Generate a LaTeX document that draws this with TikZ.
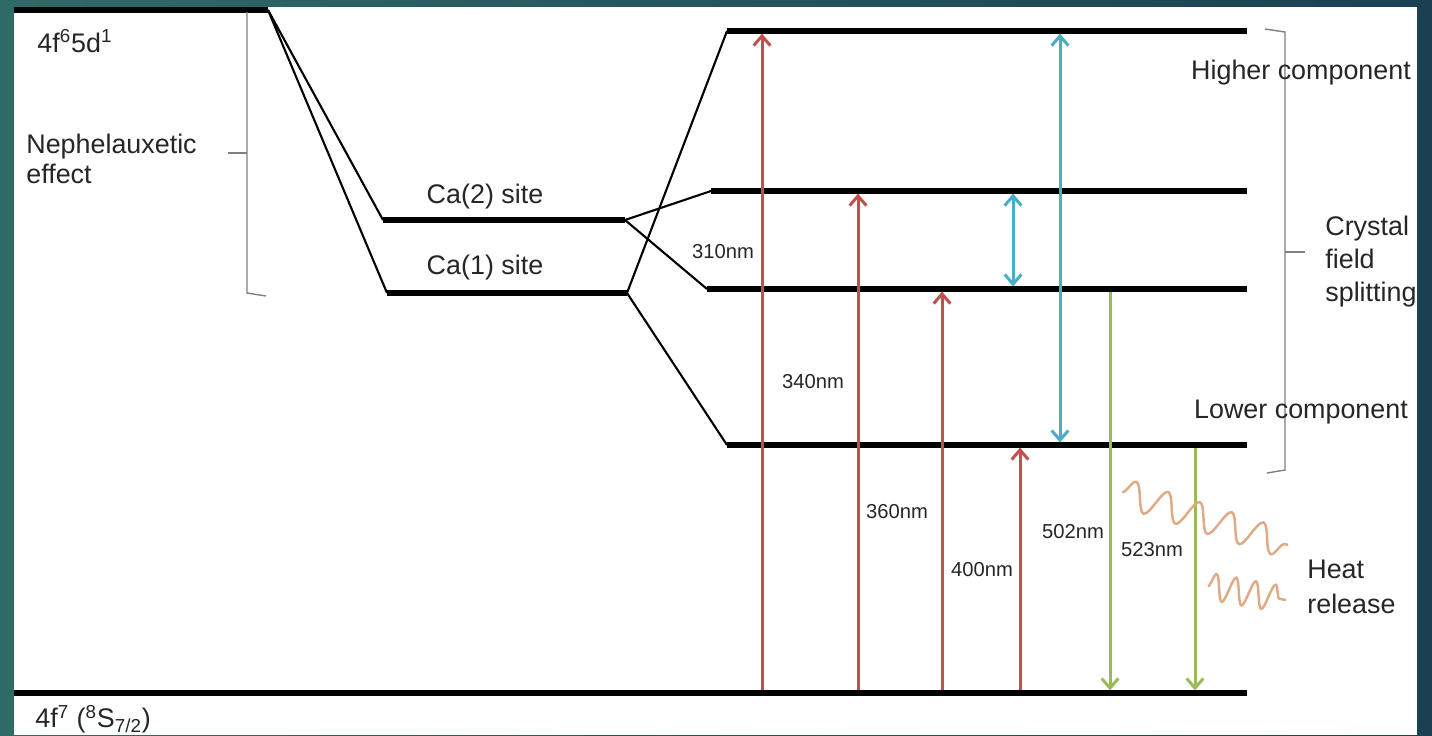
\documentclass[tikz,border=0pt]{standalone}
\usepackage{fontspec}
\setmainfont{Liberation Sans}
\usetikzlibrary{arrows.meta,decorations.pathmorphing}
\definecolor{bgL}{HTML}{2E6B67}
\definecolor{bgR}{HTML}{1A4052}
\definecolor{exc}{HTML}{C0504D}
\definecolor{cfs}{HTML}{4BACC6}
\definecolor{emi}{HTML}{9BBB59}
\definecolor{heat}{HTML}{DFAA86}
\definecolor{txt}{HTML}{262626}
\definecolor{brk}{HTML}{808080}
\begin{document}
\begin{tikzpicture}[x=0.02cm,y=-0.02cm,
  level/.style={line width=3pt,black},
  link/.style={line width=1.2pt,black},
  barb/.tip={Straight Barb[length=5.5pt,width=9.5pt]},
  excit/.style={exc,line width=1.7pt,-barb,shorten >=1.5pt,shorten <=1.5pt},
  split/.style={cfs,line width=1.7pt,barb-barb,shorten >=1.5pt,shorten <=1.5pt},
  emit/.style={emi,line width=1.7pt,-barb,shorten >=1.5pt,shorten <=1.5pt},
  lab/.style={text=txt,font=\fontsize{15.3}{17}\selectfont,inner sep=0pt},
  nm/.style={text=txt,font=\fontsize{11.5}{13}\selectfont,inner sep=0pt},
  brace/.style={brk,line width=0.8pt},
  wave/.style={heat,line width=1.4pt,decorate}]
\useasboundingbox (0,0) rectangle (1432,735);
\shade[left color=bgL,right color=bgR] (0,0) rectangle (1432,735);
\fill[white] (14,7) rectangle (1417,735);

% level end points
\coordinate (t1) at (14,10);   \coordinate (t2) at (268,10);
\coordinate (c2a) at (383,220); \coordinate (c2b) at (625,220);
\coordinate (c1a) at (387,293); \coordinate (c1b) at (627,293);
\coordinate (h1) at (727,31);  \coordinate (h2) at (1247,31);
\coordinate (u1) at (711,191); \coordinate (u2) at (1247,191);
\coordinate (m1) at (707,289); \coordinate (m2) at (1247,289);
\coordinate (l1) at (727,445); \coordinate (l2) at (1247,445);
\coordinate (g1) at (14,693);  \coordinate (g2) at (1247,693);

% levels
\foreach \a/\b in {t1/t2,c2a/c2b,c1a/c1b,h1/h2,u1/u2,m1/m2,l1/l2,g1/g2}
  \draw[level] (\a) -- (\b);
% links
\draw[link] (t2) -- (c2a);
\draw[link] (t2) -- (c1a);
\draw[link] (c2b) -- (u1);
\draw[link] (c2b) -- (m1);
\draw[link] (c1b) -- (h1);
\draw[link] (c1b) -- (l1);

% arrow feet
\coordinate (r1) at (762,693);
\coordinate (r2) at (858,693);
\coordinate (r3) at (942,693);
\coordinate (r4) at (1020,693);
\coordinate (b1) at (1013,693);
\coordinate (b2) at (1060,693);
\coordinate (e1) at (1110,693);
\coordinate (e2) at (1195,693);

\draw[excit] (r1) -- (r1 |- h1);
\draw[excit] (r2) -- (r2 |- u1);
\draw[excit] (r3) -- (r3 |- m1);
\draw[excit] (r4) -- (r4 |- l1);
\draw[split] (b1 |- u1) -- (b1 |- m1);
\draw[split] (b2 |- h1) -- (b2 |- l1);
\draw[emit] (e1 |- m1) -- (e1);
\draw[emit] (e2 |- l1) -- (e2);

% brackets
\draw[brace] (247,12) -- (247,293) -- (266,296);
\draw[brace] (228,153) -- (247,153);
\draw[brace] (1265,29) -- (1285,32) -- (1285,470) -- (1267,473);
\draw[brace] (1285,252) -- (1305,252);

% heat waves
\draw[wave,decoration={snake,segment length=19pt,amplitude=8pt}] (1122,492) -- (1288,545);
\draw[wave,decoration={snake,segment length=11.4pt,amplitude=7.5pt}] (1208,586) -- (1286,600);

% labels
\node[lab,anchor=west] (top) at (37,41) {4f\textsuperscript{6}5d\textsuperscript{1}};
\node[lab,anchor=west,align=left] (neph) at (26,159) {Nephelauxetic\\effect};
\node[lab,anchor=west] (gnd) at (35,719) {4f\textsuperscript{7} (\textsuperscript{8}S\textsubscript{7/2})};
\node[lab] (ca2) at (485,197) {Ca(2) site};
\node[lab] (ca1) at (485,268) {Ca(1) site};
\node[lab] (hc) at (1301,73) {Higher component};
\node[lab,anchor=west,align=left,font=\fontsize{15.3}{18.8}\selectfont] (cf) at (1325,262) {Crystal\\field\\splitting};
\node[lab] (lc) at (1301,412) {Lower component};
\node[lab,anchor=west,align=left,font=\fontsize{15.3}{20}\selectfont] (hr) at (1307,587) {Heat\\release};
\node[nm] (n310) at (723,252) {310nm};
\node[nm] (n340) at (813,382) {340nm};
\node[nm] (n360) at (897,512) {360nm};
\node[nm] (n400) at (982,570) {400nm};
\node[nm] (n502) at (1073,532) {502nm};
\node[nm] (n523) at (1152,550) {523nm};
\end{tikzpicture}
\end{document}
